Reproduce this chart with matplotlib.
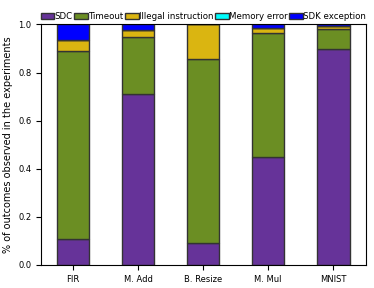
import matplotlib
matplotlib.use("Agg")
import matplotlib.pyplot as plt
import numpy as np

categories = ["FIR", "M. Add", "B. Resize", "M. Mul", "MNIST"]
series_names = ["SDC", "Timeout", "Illegal instruction", "Memory error", "SDK exception"]
sdc = [0.11, 0.71, 0.09, 0.45, 0.90]
timeout = [0.78, 0.24, 0.765, 0.515, 0.08]
illegal = [0.045, 0.025, 0.145, 0.02, 0.012]
memory = [0.0, 0.0, 0.0, 0.0, 0.0]
sdk = [0.065, 0.025, 0.0, 0.015, 0.008]
colors = ["#663399", "#6b8e23", "#dab511", "#00ffff", "#0000ff"]

fig = plt.figure(figsize=(3.74, 2.88), dpi=100)
ax = fig.add_axes([0.11, 0.08, 0.868, 0.835])
x = np.arange(len(categories))
bottom = np.zeros(len(categories))
for name, vals, c in zip(series_names, [sdc, timeout, illegal, memory, sdk], colors):
    ax.bar(x, vals, 0.5, bottom=bottom, color=c, edgecolor="#333333", linewidth=1.0, label=name)
    bottom += np.array(vals)

ax.set_ylim(0, 1)
ax.set_xlim(-0.49, 4.5)
ax.set_xticks(x)
ax.set_xticklabels(categories, fontsize=6)
ax.tick_params(axis="y", labelsize=6)
ax.set_ylabel("% of outcomes observed in the experiments", fontsize=7)
ax.legend(loc="lower center", bbox_to_anchor=(0.5, 1.0), ncol=5, frameon=False, fontsize=6.2,
          handlelength=1.6, handletextpad=0.05, columnspacing=0.15, borderaxespad=0.3,
          borderpad=0.1, handleheight=0.6)
fig.savefig("out.png", dpi=100)
